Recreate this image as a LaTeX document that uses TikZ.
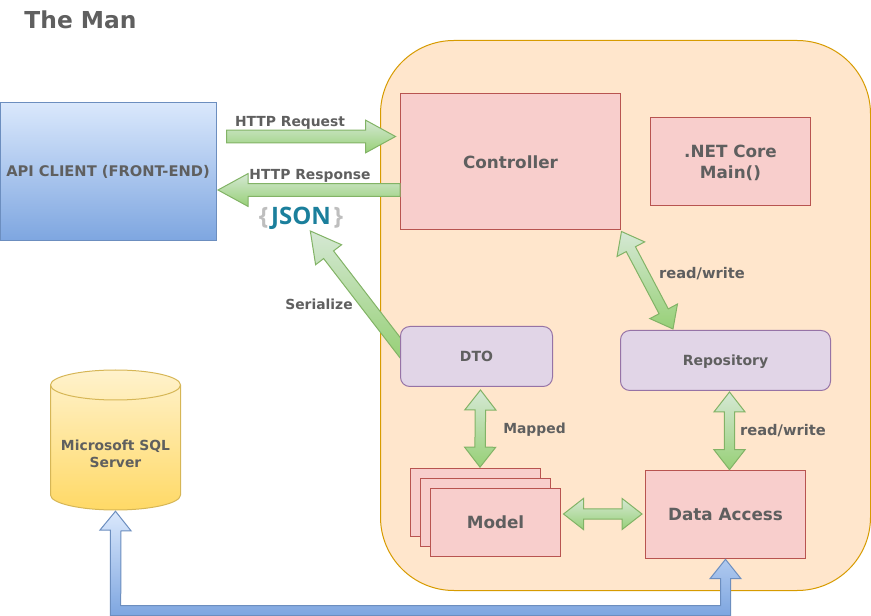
\documentclass[tikz,border=0pt]{standalone}
\usepackage{fontspec}
\setmainfont{DejaVu Sans}
\newfontfamily\jsonfont{Open Sans}
\usetikzlibrary{calc,backgrounds}
\definecolor{labelgray}{HTML}{5F5F5F}
\definecolor{jsonblue}{HTML}{1B7F9C}
\definecolor{bracegray}{HTML}{BEBEBE}
\tikzset{
  redbox/.style={draw={rgb,255:red,184;green,84;blue,80},fill={rgb,255:red,248;green,206;blue,204},line width=0.75pt,inner sep=0pt,align=center,text=labelgray,font=\bfseries\fontsize{12.6}{15}\selectfont},
  purplebox/.style={draw={rgb,255:red,150;green,115;blue,166},fill={rgb,255:red,225;green,213;blue,231},line width=0.75pt,rounded corners=7pt,inner sep=0pt,text depth=0pt,align=center,text=labelgray,font=\bfseries\fontsize{10.5}{12}\selectfont},
  caption/.style={text=labelgray,inner sep=0pt,font=\bfseries\fontsize{10.4}{12}\selectfont},
  greenarrow/.style={draw={rgb,255:red,130;green,179;blue,102},line width=0.75pt,line join=miter,top color={rgb,255:red,213;green,232;blue,212},bottom color={rgb,255:red,151;green,208;blue,119}},
  bluearrow/.style={draw={rgb,255:red,108;green,142;blue,191},line width=0.75pt,top color={rgb,255:red,218;green,232;blue,252},bottom color={rgb,255:red,126;green,166;blue,224}},
}
% fat arrow with one head, from #1 to #2
\newcommand{\fatone}[2]{
  \coordinate (fa) at #1;
  \coordinate (fb) at #2;
  \path[greenarrow] ($(fa)!4.7pt!90:(fb)$) -- ($(fb)!22.5pt!(fa)!4.7pt!-90:(fa)$) -- ($(fb)!22.5pt!(fa)!12.3pt!-90:(fa)$) -- (fb)
    -- ($(fb)!22.5pt!(fa)!12.3pt!90:(fa)$) -- ($(fb)!22.5pt!(fa)!4.7pt!90:(fa)$) -- ($(fa)!4.7pt!-90:(fb)$) -- cycle;
}
% fat arrow with two heads
\newcommand{\fatboth}[2]{
  \coordinate (fa) at #1;
  \coordinate (fb) at #2;
  \path[greenarrow] (fa) -- ($(fa)!15pt!(fb)!11.7pt!90:(fb)$) -- ($(fa)!15pt!(fb)!3.9pt!90:(fb)$)
    -- ($(fb)!15pt!(fa)!3.9pt!-90:(fa)$) -- ($(fb)!15pt!(fa)!11.7pt!-90:(fa)$) -- (fb)
    -- ($(fb)!15pt!(fa)!11.7pt!90:(fa)$) -- ($(fb)!15pt!(fa)!3.9pt!90:(fa)$)
    -- ($(fa)!15pt!(fb)!3.9pt!-90:(fb)$) -- ($(fa)!15pt!(fb)!11.7pt!-90:(fb)$) -- cycle;
}
\begin{document}
\begin{tikzpicture}[x=0.75pt,y=-0.75pt]
  \useasboundingbox (0,0) rectangle (871,616);

  \node[text=labelgray,inner sep=0pt,font=\bfseries\fontsize{17.5}{22}\selectfont] (title) at (80.5,20) {The Man};

  \node[draw={rgb,255:red,108;green,142;blue,191},top color={rgb,255:red,218;green,232;blue,252},bottom color={rgb,255:red,126;green,166;blue,224},line width=0.75pt,inner sep=0pt,text=labelgray,font=\bfseries\fontsize{11}{13}\selectfont,minimum width=162pt,minimum height=103.5pt] (client) at (108,171.5) {API CLIENT (FRONT-END)};

  \node[redbox,minimum width=165pt,minimum height=102pt] (controller) at (510.5,162) {Controller};
  \node[redbox,minimum width=120pt,minimum height=66pt,text depth=0pt] (main) at (730.5,162) {.NET Core\\[0.6pt]Main()};
  \node[purplebox,minimum width=114pt,minimum height=45pt] (dto) at (476.5,356.5) {DTO};
  \node[purplebox,minimum width=157.5pt,minimum height=45pt] (repo) at (725.5,360.5) {Repository};

  \node[redbox,minimum width=97.5pt,minimum height=51.5pt] (model3) at (475.5,502.5) {};
  \node[redbox,minimum width=97.5pt,minimum height=51.5pt] (model2) at (485.5,512.5) {};
  \node[redbox,minimum width=97.5pt,minimum height=51.5pt] (model) at (495.5,522.5) {Model};
  \node[redbox,minimum width=120pt,minimum height=66.5pt] (access) at (725.5,514.5) {Data Access};

  \path[draw={rgb,255:red,214;green,182;blue,86},line width=0.75pt,top color={rgb,255:red,255;green,242;blue,204},bottom color={rgb,255:red,255;green,217;blue,102}]
    (50.5,385) arc[start angle=180,end angle=360,x radius=65,y radius=15]
    -- (180.5,495) arc[start angle=0,end angle=180,x radius=65,y radius=15] -- cycle;
  \draw[draw={rgb,255:red,214;green,182;blue,86},line width=0.75pt] (50.5,385) arc[start angle=180,end angle=0,x radius=65,y radius=15];
  \node[minimum width=97.5pt,minimum height=86.25pt,inner sep=0pt,align=center,text=labelgray,font=\bfseries\fontsize{10.4}{12.5}\selectfont] (db) at (115.5,453.5) {Microsoft SQL\\Server};

  \node[inner sep=0pt,minimum width=61.5pt,minimum height=19.5pt,font=\jsonfont\bfseries\fontsize{18}{22}\selectfont] (json) at (301,218) {\raisebox{-1.5pt}{\textcolor{bracegray}{\{}\hspace{2pt}\textcolor{jsonblue}{JSON}\hspace{2pt}\textcolor{bracegray}{\}}}};

  \begin{pgfonlayer}{background}
    \draw[draw={rgb,255:red,215;green,155;blue,0},fill={rgb,255:red,255;green,230;blue,204},line width=0.75pt,rounded corners=55pt] (380.5,40.5) rectangle (870.5,590.5);
    \fatone{($(dto.west)+(5.5,-1.8)$)}{($(json.south)+(9.3,-0.3)$)}
  \end{pgfonlayer}

  \fatone{($(client.east)+(10,-35)$)}{($(controller.west)+(-4.5,-25.5)$)}
  \fatone{($(controller.west)+(0,28)$)}{($(client.east)+(1.5,18.5)$)}
  \fatboth{($(controller.south east)+(0.5,1)$)}{($(repo.north)+(-52.5,-1)$)}
  \fatboth{($(dto.south)+(4,3)$)}{($(model3.north)+(4.5,-0.5)$)}
  \fatboth{($(repo.south)+(4,1)$)}{($(access.north)+(4,0)$)}
  \fatboth{($(model.east)+(2.5,-8.5)$)}{($(access.west)+(-3,-0.5)$)}

  \path[bluearrow] (db.south) -- ++(15.5,19.5) -- ++(-10,0) -- (120.7,605.7) -- (720.7,605.7) -- (720.7,578.7) -- (710,578.7)
    -- (access.south) -- (741,578.7) -- (730.7,578.7) -- (730.7,615.5) -- (110.3,615.5) -- (110.3,530) -- (100,530) -- cycle;

  \node[caption] (request) at (290,122.5) {HTTP Request};
  \node[caption] (response) at (310,176) {HTTP Response};
  \node[caption] (serialize) at (319,304) {Serialize};
  \node[caption,font=\bfseries\fontsize{11}{13}\selectfont] (rwtop) at (702,274) {read/write};
  \node[caption] (mapped) at (534.5,429.5) {Mapped};
  \node[caption,font=\bfseries\fontsize{11}{13}\selectfont] (rwbottom) at (783,431) {read/write};
\end{tikzpicture}
\end{document}
